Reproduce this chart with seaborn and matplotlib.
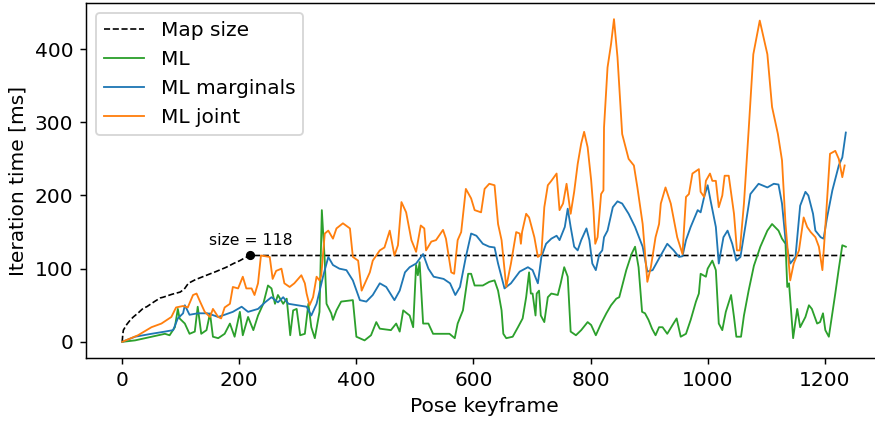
import matplotlib
matplotlib.use("Agg")
import matplotlib.pyplot as plt
import seaborn as sns

# Map size (number of keyframes kept in the optimisation window)
map_frames = [0, 1, 2, 8, 14, 19, 28, 36, 42, 55, 65, 70, 85, 99, 106, 113, 125,
              144, 160, 178, 190, 201, 210, 219, 1234]
map_sizes = [0, 10, 16, 24, 30, 34, 40, 46, 48, 55, 60, 61, 65, 68, 72, 80, 85,
             91, 96, 102, 107, 111, 115, 118, 118]

# ML iteration time [ms]
ml_frames = [0, 22, 50, 73, 81, 90, 95, 98, 107, 115, 124, 129, 135, 144, 150, 155,
             164, 175, 184, 192, 201, 206, 215, 224, 232, 241, 249, 255, 261, 266,
             275, 281, 287, 292, 298, 304, 312, 318, 323, 329, 337, 341, 346, 349,
             357, 360, 366, 374, 394, 400, 414, 425, 434, 440, 459, 468, 474, 480,
             491, 497, 502, 505, 508, 514, 523, 531, 542, 559, 568, 573, 582, 591,
             596, 602, 616, 627, 636, 642, 648, 651, 656, 667, 676, 684, 690, 695,
             698, 701, 706, 708, 712, 715, 721, 727, 733, 744, 749, 755, 761, 766,
             775, 784, 795, 801, 809, 818, 827, 835, 844, 849, 861, 870, 876, 882,
             888, 893, 899, 905, 911, 917, 923, 931, 940, 947, 954, 963, 971, 980,
             985, 988, 997, 1000, 1008, 1014, 1019, 1025, 1031, 1040, 1045, 1049,
             1057, 1062, 1070, 1079, 1090, 1102, 1110, 1121, 1127, 1133, 1136, 1139,
             1146, 1153, 1158, 1167, 1173, 1178, 1187, 1192, 1197, 1201, 1207, 1218,
             1224, 1230, 1236]
ml_times = [0, 2, 7, 11, 9, 20, 45, 32, 25, 11, 14, 48, 11, 16, 39, 7,
            5, 11, 25, 7, 41, 9, 34, 16, 36, 52, 77, 73, 52, 64,
            52, 59, 9, 43, 45, 9, 11, 52, 20, 5, 41, 180, 111, 52,
            39, 30, 43, 55, 57, 7, 2, 9, 27, 18, 16, 25, 14, 43,
            36, 20, 105, 91, 109, 25, 25, 11, 11, 11, 5, 25, 43, 93,
            93, 77, 77, 82, 84, 70, 43, 11, 5, 7, 20, 32, 61, 95,
            66, 66, 36, 66, 70, 36, 27, 61, 66, 64, 80, 102, 89, 14,
            9, 16, 27, 23, 9, 25, 39, 50, 59, 61, 98, 120, 130, 102,
            41, 39, 30, 18, 9, 20, 20, 11, 23, 32, 7, 11, 30, 55,
            66, 93, 89, 100, 111, 98, 25, 16, 41, 64, 34, 7,
            7, 36, 70, 104, 130, 152, 161, 152, 141, 134, 75, 80,
            5, 45, 20, 34, 50, 45, 25, 27, 39, 16, 7, 66,
            100, 132, 130]

# ML marginals iteration time [ms]
marg_frames = [0, 22, 50, 73, 87, 95, 104, 107, 115, 129, 146, 164, 175, 189, 204,
               215, 232, 244, 255, 266, 275, 284, 300, 315, 323, 332, 343, 352, 360,
               371, 383, 394, 406, 417, 428, 440, 451, 465, 474, 483, 491, 502, 514,
               523, 532, 549, 560, 569, 577, 587, 596, 605, 616, 627, 636, 642, 653,
               664, 679, 693, 701, 710, 716, 724, 733, 742, 747, 756, 761, 766, 772,
               778, 784, 789, 793, 798, 803, 809, 815, 820, 823, 829, 838, 846, 854,
               865, 876, 889, 897, 906, 917, 931, 942, 951, 957, 963, 971, 983, 988,
               994, 1000, 1005, 1014, 1019, 1027, 1034, 1042, 1049, 1056, 1065, 1073,
               1087, 1102, 1113, 1121, 1127, 1133, 1141, 1150, 1158, 1167, 1172, 1180,
               1184, 1193, 1198, 1204, 1213, 1224, 1230, 1236]
marg_times = [0, 7, 11, 14, 16, 32, 39, 50, 37, 39, 39, 34, 37, 41, 48,
              41, 45, 54, 61, 54, 61, 52, 50, 48, 36, 52, 89, 116, 105,
              100, 98, 84, 57, 55, 64, 80, 75, 57, 70, 95, 102, 107, 120,
              100, 89, 86, 80, 64, 75, 116, 148, 145, 134, 130, 129, 107, 73,
              80, 96, 102, 98, 80, 116, 134, 141, 145, 139, 157, 182, 157, 130,
              125, 139, 148, 155, 139, 107, 98, 120, 125, 143, 152, 184, 192, 189,
              175, 157, 130, 96, 98, 114, 134, 125, 116, 117, 139, 157, 180, 177,
              198, 214, 193, 157, 107, 143, 152, 134, 111, 116, 161, 202,
              216, 211, 216, 215, 189, 139, 107, 116, 186, 205, 200, 175,
              152, 143, 141, 170, 207, 241, 252, 286]

# ML joint iteration time [ms]
joint_frames = [0, 27, 50, 67, 84, 92, 104, 112, 121, 127, 133, 141, 150, 155, 164,
                169, 175, 184, 189, 198, 206, 212, 221, 226, 232, 237, 252, 257, 263,
                272, 277, 286, 294, 306, 312, 315, 320, 326, 332, 337, 340, 346, 352,
                360, 366, 377, 389, 394, 403, 409, 414, 423, 428, 440, 448, 457, 465,
                471, 477, 485, 494, 502, 510, 516, 519, 528, 536, 548, 553, 562, 567,
                573, 579, 587, 596, 602, 613, 619, 627, 636, 642, 648, 656, 664, 673,
                679, 681, 683, 690, 695, 704, 710, 716, 721, 727, 733, 742, 747, 753,
                759, 766, 772, 778, 784, 789, 795, 801, 805, 808, 812, 818, 822, 823,
                829, 835, 840, 846, 854, 865, 874, 880, 889, 897, 903, 911, 917, 920,
                928, 937, 948, 957, 963, 968, 974, 985, 988, 994, 997, 1004, 1008,
                1014, 1019, 1025, 1029, 1036, 1045, 1050, 1055, 1062, 1070, 1078, 1089,
                1102, 1110, 1120, 1127, 1133, 1141, 1147, 1156, 1164, 1170, 1176, 1184,
                1190, 1196, 1201, 1209, 1218, 1224, 1230, 1234]
joint_times = [0, 9, 20, 25, 34, 47, 49, 47, 64, 66, 55, 41, 34, 45, 34,
               32, 47, 52, 75, 73, 89, 73, 73, 64, 80, 118, 116, 86, 97,
               100, 80, 75, 80, 91, 80, 66, 50, 61, 89, 84, 91, 148, 152,
               141, 155, 162, 155, 116, 111, 70, 79, 95, 111, 125, 129, 152, 118,
               132, 191, 177, 139, 123, 159, 155, 125, 137, 139, 153, 141, 95, 93,
               139, 150, 209, 196, 180, 177, 209, 216, 214, 161, 139, 75, 107, 150,
               148, 134, 150, 175, 170, 143, 116, 120, 184, 214, 220, 230, 180, 189,
               216, 175, 205, 243, 271, 287, 266, 221, 180, 134, 143, 202, 207, 293,
               375, 407, 441, 389, 284, 250, 241, 211, 161, 82, 102, 143, 161, 189,
               211, 189, 143, 120, 198, 202, 230, 236, 205, 198, 220, 230, 220,
               220, 184, 200, 227, 227, 175, 125, 125, 189, 289, 393, 439,
               393, 321, 284, 248, 161, 84, 107, 125, 170, 157, 150, 143,
               130, 98, 157, 257, 261, 250, 225, 241]

# Point where the map reaches its full size
full_frame = 219
full_size = 118

plt.rcParams["font.size"] = 11

fig = plt.figure(figsize=(875 / 132, 422 / 132), dpi=132)
ax = fig.add_axes([0.0983, 0.1517, 0.9097, 0.8412])

sns.lineplot(x=map_frames, y=map_sizes, ax=ax, color="black", linestyle="--",
             linewidth=0.9, label="Map size", estimator=None, sort=False)
sns.lineplot(x=ml_frames, y=ml_times, ax=ax, color="#2ca02c", linewidth=1.0,
             label="ML", estimator=None, sort=False)
sns.lineplot(x=marg_frames, y=marg_times, ax=ax, color="#1f77b4", linewidth=1.0,
             label="ML marginals", estimator=None, sort=False)
sns.lineplot(x=joint_frames, y=joint_times, ax=ax, color="#ff7f0e", linewidth=1.0,
             label="ML joint", estimator=None, sort=False)

ax.plot([full_frame], [full_size], "o", color="black", markersize=4)
ax.annotate(f"size = {full_size}", xy=(full_frame, full_size), xytext=(0, 4),
            textcoords="offset points", ha="center", va="bottom", fontsize=8.5)

ax.set_xlabel("Pose keyframe")
ax.set_ylabel("Iteration time [ms]")
ax.set_xticks([0, 200, 400, 600, 800, 1000, 1200])
ax.set_yticks([0, 100, 200, 300, 400])
ax.legend(loc="upper left")

fig.savefig("out.png", dpi=132)
